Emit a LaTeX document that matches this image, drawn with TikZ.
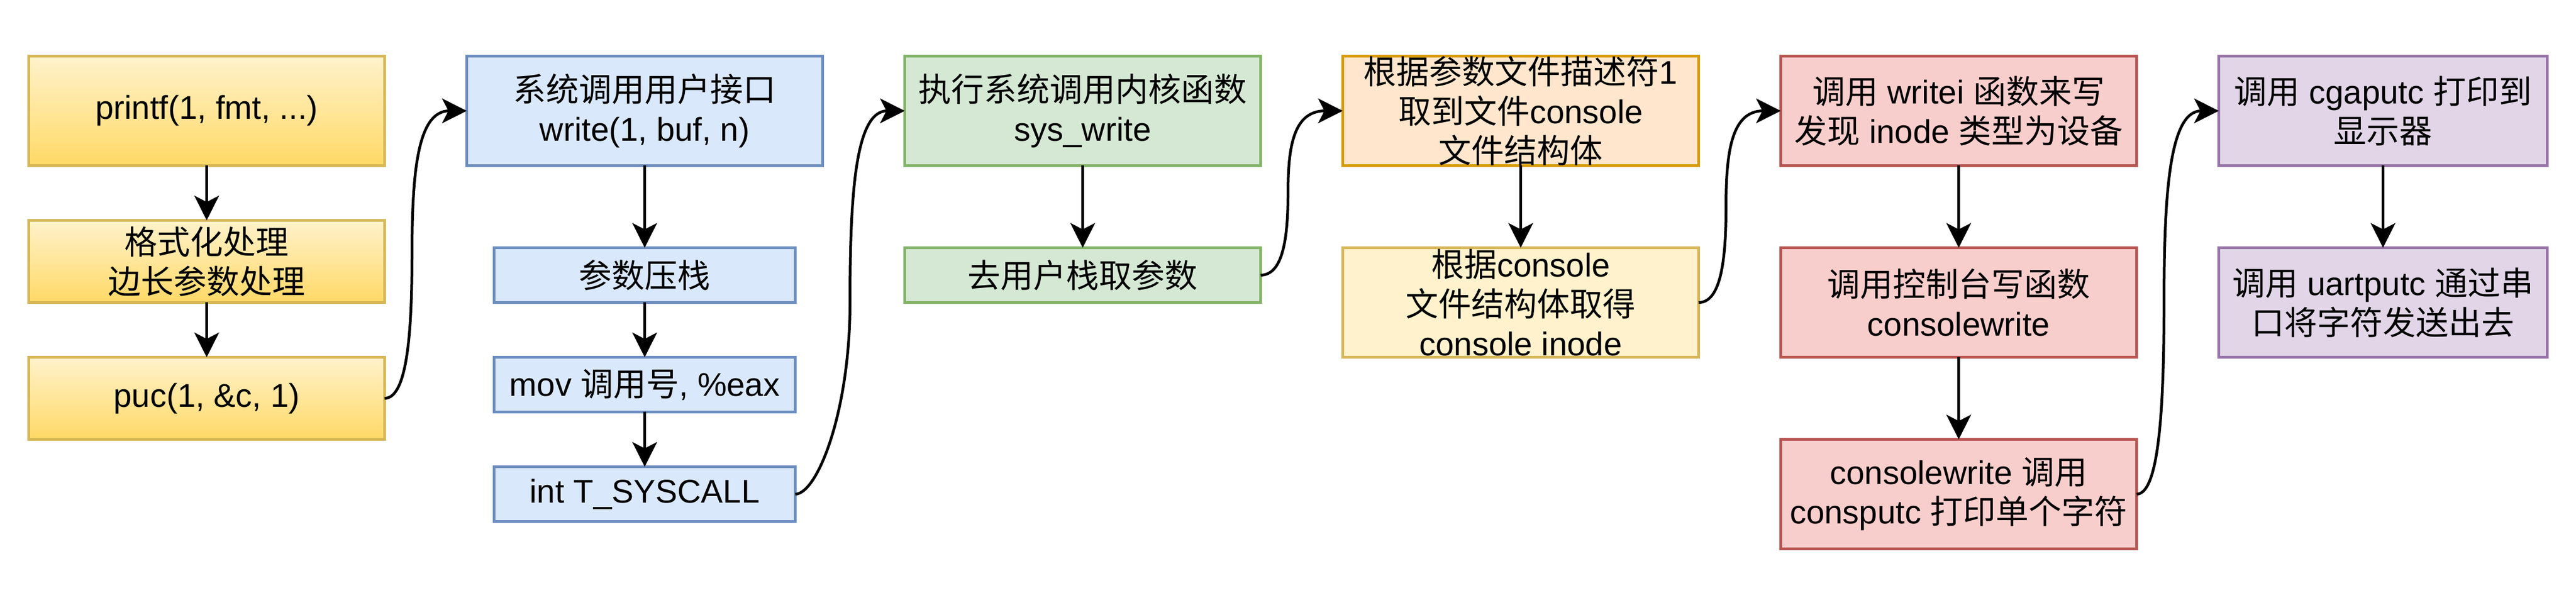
\documentclass[tikz,border=0pt]{standalone}
\usepackage{fontspec}
\setmainfont{Liberation Sans}
\newfontfamily\cjk{Noto Sans CJK SC}
\usetikzlibrary{arrows.meta}
\definecolor{ytop}{HTML}{FFF2CC}
\definecolor{ybot}{HTML}{FFD966}
\definecolor{ystroke}{HTML}{D6B656}
\definecolor{bfill}{HTML}{DAE8FC}
\definecolor{bstroke}{HTML}{6C8EBF}
\definecolor{gfill}{HTML}{D5E8D4}
\definecolor{gstroke}{HTML}{82B366}
\definecolor{ofill}{HTML}{FFE6CC}
\definecolor{ostroke}{HTML}{D79B00}
\definecolor{rfill}{HTML}{F8CECC}
\definecolor{rstroke}{HTML}{B85450}
\definecolor{pfill}{HTML}{E1D5E7}
\definecolor{pstroke}{HTML}{9673A6}
\tikzset{
  box/.style={rectangle, inner sep=0pt, outer sep=0pt, line width=1pt, align=center,
    font=\fontsize{12pt}{14.4pt}\selectfont, text=black},
  ybox/.style={box, draw=ystroke, top color=ytop, bottom color=ybot},
  yplain/.style={box, draw=ystroke, fill=ytop},
  bbox/.style={box, draw=bstroke, fill=bfill},
  gbox/.style={box, draw=gstroke, fill=gfill},
  obox/.style={box, draw=ostroke, fill=ofill},
  rbox/.style={box, draw=rstroke, fill=rfill},
  pbox/.style={box, draw=pstroke, fill=pfill},
  conn/.style={line width=1pt, draw=black, -{Stealth[length=9pt, width=9pt, inset=2.3pt]}},
}
\begin{document}
\begin{tikzpicture}[x=1pt, y=-1pt]
\fill[white] (0,0) rectangle (941,221);
\useasboundingbox (0,0) rectangle (941,221);
% column A
\node[ybox, minimum width=130pt, minimum height=40pt] (A1) at (75.5,40.5) {printf(1, fmt, ...)};
\node[ybox, minimum width=130pt, minimum height=30pt] (A2) at (75.5,95.5) {{\cjk 格式化处理}\\{\cjk 边长参数处理}};
\node[ybox, minimum width=130pt, minimum height=30pt] (A3) at (75.5,145.5) {puc(1, \&c, 1)};
% column B
\node[bbox, minimum width=130pt, minimum height=40pt] (B1) at (235.5,40.5) {{\cjk 系统调用用户接口}\\write(1, buf, n)};
\node[bbox, minimum width=110pt, minimum height=20pt] (B2) at (235.5,100.5) {{\cjk 参数压栈}};
\node[bbox, minimum width=110pt, minimum height=20pt] (B3) at (235.5,140.5) {mov {\cjk 调用号}, \%eax};
\node[bbox, minimum width=110pt, minimum height=20pt] (B4) at (235.5,180.5) {int T\_SYSCALL};
% column C
\node[gbox, minimum width=130pt, minimum height=40pt] (C1) at (395.5,40.5) {{\cjk 执行系统调用内核函数}\\sys\_write};
\node[gbox, minimum width=130pt, minimum height=20pt] (C2) at (395.5,100.5) {{\cjk 去用户栈取参数}};
% column D
\node[obox, minimum width=130pt, minimum height=40pt] (D1) at (555.5,40.5) {{\cjk 根据参数文件描述符}1\\{\cjk 取到文件}console\\{\cjk 文件结构体}};
\node[yplain, minimum width=130pt, minimum height=40pt] (D2) at (555.5,110.5) {{\cjk 根据}console\\{\cjk 文件结构体取得}\\console inode};
% column E
\node[rbox, minimum width=130pt, minimum height=40pt] (E1) at (715.5,40.5) {{\cjk 调用} writei {\cjk 函数来写}\\{\cjk 发现} inode {\cjk 类型为设备}};
\node[rbox, minimum width=130pt, minimum height=40pt] (E2) at (715.5,110.5) {{\cjk 调用控制台写函数}\\consolewrite};
\node[rbox, minimum width=130pt, minimum height=40pt] (E3) at (715.5,180.5) {consolewrite {\cjk 调用}\\consputc {\cjk 打印单个字符}};
% column F
\node[pbox, minimum width=120pt, minimum height=40pt] (F1) at (870.5,40.5) {{\cjk 调用} cgaputc {\cjk 打印到}\\{\cjk 显示器}};
\node[pbox, minimum width=120pt, minimum height=40pt] (F2) at (870.5,110.5) {{\cjk 调用} uartputc {\cjk 通过串}\\{\cjk 口将字符发送出去}};
% vertical arrows
\draw[conn] (A1.south) -- (A2.north);
\draw[conn] (A2.south) -- (A3.north);
\draw[conn] (B1.south) -- (B2.north);
\draw[conn] (B2.south) -- (B3.north);
\draw[conn] (B3.south) -- (B4.north);
\draw[conn] (C1.south) -- (C2.north);
\draw[conn] (D1.south) -- (D2.north);
\draw[conn] (E1.south) -- (E2.north);
\draw[conn] (E2.south) -- (E3.north);
\draw[conn] (F1.south) -- (F2.north);
% curved connectors
\coordinate (m1) at (150.5,93);
\coordinate (m2) at (310.5,110.5);
\coordinate (m3) at (470.5,70.5);
\coordinate (m4) at (630.5,75.5);
\coordinate (m5) at (790.5,110.5);
\draw[conn] (A3.east) .. controls +(8,0) and +(0,30) .. (m1) .. controls +(0,-30) and +(-18,0) .. (B1.west);
\draw[conn] (B4.east) .. controls +(8,0) and +(0,40) .. (m2) .. controls +(0,-40) and +(-18,0) .. (C1.west);
\draw[conn] (C2.east) .. controls +(8,0) and +(0,17) .. (m3) .. controls +(0,-17) and +(-18,0) .. (D1.west);
\draw[conn] (D2.east) .. controls +(8,0) and +(0,20) .. (m4) .. controls +(0,-20) and +(-18,0) .. (E1.west);
\draw[conn] (E3.east) .. controls +(8,0) and +(0,40) .. (m5) .. controls +(0,-40) and +(-18,0) .. (F1.west);
\end{tikzpicture}
\end{document}
